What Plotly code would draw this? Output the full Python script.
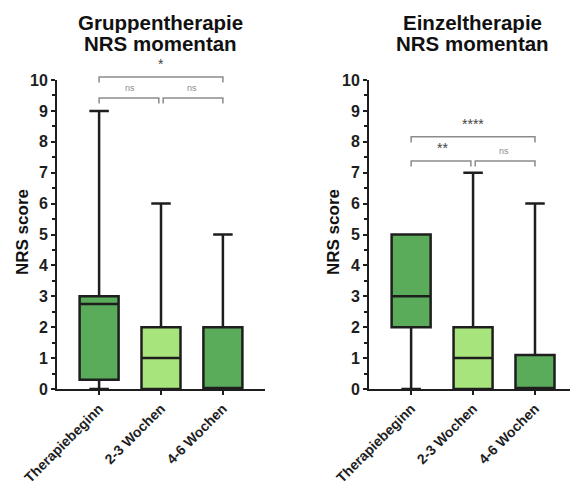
import plotly.graph_objects as go

# Categories (time points)
categories = ["Therapiebeginn", "2-3 Wochen", "4-6 Wochen"]

# Gruppentherapie: box statistics per time point
grp_min = [0, 0, 0]
grp_q1 = [0.3, 0, 0]
grp_med = [2.75, 1, 0]
grp_q3 = [3, 2, 2]
grp_max = [9, 6, 5]

# Einzeltherapie: box statistics per time point
ein_min = [0, 0, 0]
ein_q1 = [2, 0, 0]
ein_med = [3, 1, 0]
ein_q3 = [5, 2, 1.1]
ein_max = [5, 7, 6]

# Significance comparisons: (from index, to index, bracket level, label)
grp_sig = [(0, 2, 10.1, "*"), (0, 1, 9.42, "ns"), (1, 2, 9.42, "ns")]
ein_sig = [(0, 2, 8.16, "****"), (0, 1, 7.38, "**"), (1, 2, 7.38, "ns")]

box_colors = ["#5aab5a", "#a8e47c", "#5aab5a"]
FONT = "Liberation Sans, Arial, sans-serif"
INK = "#1e1e1e"
GREY = "#8c8c8c"

W, H = 570, 489
y_bot = 1 - 389 / H
y_top = 1 - 80 / H
y_ext = 1 - 52 / H
ext_max = 10 * (y_ext - y_bot) / (y_top - y_bot)

positions = list(range(len(categories)))

fig = go.Figure()


def add_panel(xa, ya, yb, mins, q1s, meds, q3s, maxs, sig):
    for i in positions:
        fig.add_trace(go.Box(
            x=[i], q1=[q1s[i]], median=[meds[i]], q3=[q3s[i]],
            lowerfence=[mins[i]], upperfence=[maxs[i]],
            width=0.63, whiskerwidth=0.5, boxpoints=False,
            fillcolor=box_colors[i], line=dict(color=INK, width=2.5),
            xaxis=xa, yaxis=ya, showlegend=False, hoverinfo="skip",
        ))
    gap = 0.035
    for a, b, lvl, lab in sig:
        # shorten the bracket end where it meets a neighbouring bracket
        xa0 = a + (gap if any(s[1] == a and s[2] == lvl for s in sig) else 0)
        xb0 = b - (gap if any(s[0] == b and s[2] == lvl for s in sig) else 0)
        drop = 0.18
        fig.add_trace(go.Scatter(
            x=[xa0, xa0, xb0, xb0], y=[lvl - drop, lvl, lvl, lvl - drop],
            mode="lines", line=dict(color=GREY, width=1.5),
            xaxis=xa, yaxis=yb, showlegend=False, hoverinfo="skip",
        ))
        star = "*" in lab
        fig.add_annotation(
            x=(a + b) / 2, y=lvl + 0.08, xref=xa, yref=yb,
            text=lab, showarrow=False, yanchor="bottom",
            font=dict(family=FONT, size=14 if star else 9, color="#444" if star else GREY),
        )


add_panel("x", "y", "y3", grp_min, grp_q1, grp_med, grp_q3, grp_max, grp_sig)
add_panel("x2", "y2", "y4", ein_min, ein_q1, ein_med, ein_q3, ein_max, ein_sig)

xaxis_common = dict(
    type="linear", tickmode="array", tickvals=positions, ticktext=categories,
    showline=True, linecolor=INK, linewidth=2, ticks="outside", ticklen=4,
    tickwidth=2, tickcolor=INK, tickangle=-45, showgrid=False, zeroline=False,
    automargin=False,
    tickfont=dict(family=FONT, size=14, color=INK, weight="bold"),
)
yaxis_common = dict(
    range=[0, 10], tickvals=list(range(11)), showline=True, linecolor=INK,
    linewidth=2, ticks="outside", ticklen=4, tickwidth=2, tickcolor=INK,
    showgrid=False, zeroline=False, automargin=False,
    minor=dict(tickvals=[k + 0.5 for k in range(10)], ticks="outside",
               ticklen=3, tickwidth=1.5, tickcolor=INK),
    tickfont=dict(family=FONT, size=16, color=INK, weight="bold"),
)
hidden_y = dict(range=[0, ext_max], domain=[y_bot, y_ext], visible=False,
                showgrid=False, zeroline=False, fixedrange=True, automargin=False)

fig.update_layout(
    width=W, height=H, margin=dict(l=0, r=0, t=0, b=0, autoexpand=False),
    paper_bgcolor="white", plot_bgcolor="rgba(0,0,0,0)",
    xaxis=dict(xaxis_common, domain=[57 / W, 265 / W], range=[-0.68, 2.68], anchor="y"),
    yaxis=dict(yaxis_common, domain=[y_bot, y_top], anchor="x"),
    xaxis2=dict(xaxis_common, domain=[369 / W, 1.0], range=[-0.68, 2.565], anchor="y2"),
    yaxis2=dict(yaxis_common, domain=[y_bot, y_top], anchor="x2"),
    yaxis3=dict(hidden_y, anchor="x"),
    yaxis4=dict(hidden_y, anchor="x2"),
)

# Panel titles (two tightly spaced lines) and y-axis labels
for xc, lines in [(160.5 / W, ["Gruppentherapie", "NRS momentan"]),
                  (472 / W, ["Einzeltherapie", "NRS momentan"])]:
    for k, line in enumerate(lines):
        fig.add_annotation(x=xc, y=1 - (23 + 21 * k) / H, xref="paper", yref="paper",
                           text=line, showarrow=False, xanchor="center", yanchor="middle",
                           height=21, font=dict(family=FONT, size=20.5, color="#111", weight="bold"))
for xc in [22 / W, 333 / W]:
    fig.add_annotation(x=xc, y=1 - 232 / H, xref="paper", yref="paper",
                       text="NRS score", textangle=-90, showarrow=False,
                       xanchor="center", yanchor="middle",
                       font=dict(family=FONT, size=17, color="#111", weight="bold"))

fig.write_html("out.html")
